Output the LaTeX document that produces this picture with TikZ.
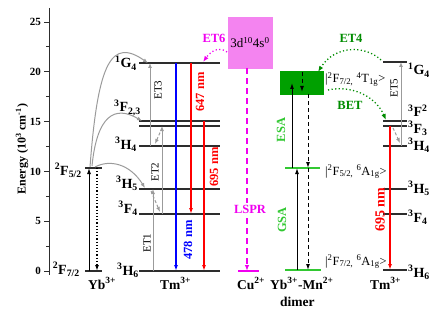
\documentclass[tikz,border=0pt]{standalone}
\usepackage{fontspec}
\setmainfont{Liberation Serif}
\usetikzlibrary{arrows.meta,calc}
\definecolor{lvlc}{RGB}{45,45,45}
\definecolor{grayarr}{RGB}{155,155,155}
\definecolor{pinkbox}{RGB}{244,132,240}
\definecolor{mag}{RGB}{240,0,240}
\definecolor{dgreen}{RGB}{0,140,0}
\definecolor{lgreen}{RGB}{50,200,50}
\definecolor{boxgreen}{RGB}{0,160,0}
\definecolor{myred}{RGB}{255,0,0}
\definecolor{myblue}{RGB}{0,0,255}
\begin{document}
\begin{tikzpicture}[x=1pt,y=-1pt,
  lvl/.style={draw=lvlc,line width=1.4pt},
  glvl/.style={draw=lgreen,line width=2pt},
  tip/.style={-{Latex[length=6pt,width=4pt]}},
  blk/.style={draw=black,line width=1pt,-{Latex[length=6pt,width=4pt]}},
  blkdash/.style={draw=black,line width=1pt,dash pattern=on 4pt off 3pt,-{Latex[length=6pt,width=4pt]}},
  grayup/.style={draw=grayarr,line width=1pt,-{Latex[length=5pt,width=4pt]}},
  graydash/.style={draw=grayarr,line width=1pt,dash pattern=on 3pt off 2pt,-{Latex[length=5pt,width=4pt]}},
  emis/.style={line width=1.2pt,-{Latex[length=6pt,width=4pt]}},
  lbl/.style={font=\bfseries\fontsize{14}{14}\selectfont,inner sep=0pt},
  splbl/.style={font=\bfseries\fontsize{13.5}{13.5}\selectfont,inner sep=0pt,anchor=base west},
  etlbl/.style={font=\fontsize{11}{11}\selectfont,rotate=90,inner sep=0pt},
  nmlbl/.style={font=\bfseries\fontsize{12.5}{12.5}\selectfont,rotate=90,inner sep=0pt},
  ticklbl/.style={font=\bfseries\fontsize{11}{11}\selectfont,inner sep=0pt,anchor=east},
  ketlbl/.style={font=\fontsize{12.5}{12.5}\selectfont,inner sep=0pt,anchor=base west},
  collbl/.style={font=\bfseries\fontsize{12.5}{12.5}\selectfont,inner sep=0pt},
  dotc/.style={line width=1.3pt,dash pattern=on 1.2pt off 2.4pt,-{Latex[length=6pt,width=4.5pt]}},
]
\useasboundingbox (0,0) rectangle (444,310);
% ---------- axis
\coordinate (axT) at (49,8);
\coordinate (axB) at (49,275);
\draw[line width=0.8pt,lvlc] (axT) -- (axB);
\foreach \e in {0,5,...,25}{
  \draw[line width=0.8pt,lvlc] (44,{271-9.96*\e}) -- (49,{271-9.96*\e});
  \node[ticklbl] (tick\e) at (41,{271-9.96*\e}) {\e};
}
\foreach \e in {2.5,7.5,12.5,17.5,22.5}{
  \draw[line width=0.8pt,lvlc] (46,{271-9.96*\e}) -- (49,{271-9.96*\e});
}
\node[rotate=90,font=\bfseries\fontsize{12}{12}\selectfont,inner sep=0pt] (ylab) at (22,149) {Energy (10\textsuperscript{3} cm\textsuperscript{-1})};

% ---------- Yb3+
\coordinate (ybUL) at (85,168); \coordinate (ybUR) at (102,168);
\coordinate (ybLL) at (85,271); \coordinate (ybLR) at (102,271);
\draw[lvl] (ybUL) -- (ybUR);
\draw[lvl] (ybLL) -- (ybLR);
\draw[blk] (89,0 |- ybLL) -- (89,0 |- ybUL);
\draw[line width=1.2pt,dash pattern=on 1.2pt off 2pt,-{Latex[length=6pt,width=4pt]}] (97,0 |- ybUL) -- (97,0 |- ybLL);
\node[lbl,anchor=base east] (lF52) at (82,175) {\textsuperscript{2}F\textsubscript{5/2}};
\node[lbl,anchor=base east] (lF72) at (80,274) {\textsuperscript{2}F\textsubscript{7/2}};
\node[splbl] (lyb) at (88,289) {Yb\textsuperscript{3+}};

% ---------- Tm3+ (left)
\foreach \n/\y in {G4/63,Fa/121,Fb/126,H4/146,H5/189,F4/214,H6/271}{
  \coordinate (tl\n) at (139,\y); \coordinate (tr\n) at (220,\y);
  \draw[lvl] (tl\n) -- (tr\n);
}
\node[lbl,anchor=base east] (lG4) at (137,68) {\textsuperscript{1}G\textsubscript{4}};
\node[lbl,anchor=base east] (lF23) at (141,112) {\textsuperscript{3}F\textsubscript{2,3}};
\node[lbl,anchor=base east] (lH4) at (137,149) {\textsuperscript{3}H\textsubscript{4}};
\node[lbl,anchor=base east] (lH5) at (138,188) {\textsuperscript{3}H\textsubscript{5}};
\node[lbl,anchor=base east] (lF4) at (138,213) {\textsuperscript{3}F\textsubscript{4}};
\node[lbl,anchor=base east] (lH6) at (139,275) {\textsuperscript{3}H\textsubscript{6}};
\node[splbl] (ltm) at (160,289) {Tm\textsuperscript{3+}};

% energy transfer from Yb
\coordinate (c1s) at (90,167); \coordinate (c1e) at (148,63);
\coordinate (c2s) at (92,166); \coordinate (c2e) at (142,121);
\coordinate (c3s) at (95,167); \coordinate (c3e) at (145,188);
\draw[grayup] (c1s) .. controls (98,60) and (112,38) .. (c1e);
\draw[grayup] (c2s) .. controls (97,115) and (115,105) .. (c2e);
\draw[grayup] (c3s) .. controls (110,159) and (130,164) .. (c3e);

\draw[grayup] (153,0 |- tlH6) -- (153,0 |- tlH5);
\draw[grayup] (162,0 |- tlF4) -- (162,0 |- tlFb);
\draw[grayup] (150,0 |- tlH4) -- (150,0 |- tlG4);
\coordinate (nr1s) at (162,128); \coordinate (nr1e) at (155,144);
\coordinate (nr2s) at (151,191); \coordinate (nr2e) at (160,212);
\draw[graydash] (nr1s) -- (nr1e);
\draw[graydash] (nr2s) -- (nr2e);
\node[etlbl] (et1) at (147,243) {ET1};
\node[etlbl] (et2) at (155,172) {ET2};
\node[etlbl] (et3) at (158,90) {ET3};

% emissions
\draw[emis,myblue] (176,0 |- tlG4) -- (176,0 |- tlH6);
\draw[emis,myred] (191,0 |- tlG4) -- (191,0 |- tlF4);
\draw[emis,myred] (204,0 |- tlFa) -- (204,0 |- tlH6);
\node[nmlbl,text=myblue] (n478) at (188,240) {478 nm};
\node[nmlbl,text=myred] (n647) at (200,92) {647 nm};
\node[nmlbl,text=myred] (n695a) at (214,167) {695 nm};

% ---------- Cu2+
\node[draw=pinkbox,fill=pinkbox,minimum width=44pt,minimum height=51pt,inner sep=0pt,
      font=\fontsize{13}{13}\selectfont] (cubox) at (250,42.5) {3d\textsuperscript{10}4s\textsuperscript{0}};
\coordinate (cuL) at (238,271); \coordinate (cuR) at (259,271);
\draw[mag,line width=1.5pt] (cuL) -- (cuR);
\draw[mag,line width=1.3pt,dash pattern=on 6pt off 4pt,-{Latex[length=6pt,width=4.5pt]}] (247,0 |- cubox.south) -- (247,0 |- cuL);
\node[collbl,text=mag,fill=white,inner sep=1.5pt] (lspr) at (250,209) {LSPR};
\node[splbl] (lcu) at (237,289) {Cu\textsuperscript{2+}};
\node[collbl,text=mag] (et6) at (214,38) {ET6};
\coordinate (et6s) at (227,52); \coordinate (et6e) at (203,62);
\draw[mag,dotc] (et6s) .. controls (219,46) and (211,51) .. (et6e);

% ---------- Yb3+-Mn2+ dimer
\node[fill=boxgreen,draw=boxgreen,minimum width=43pt,minimum height=23pt,inner sep=0pt] (gbox) at (301.5,82.5) {};
\coordinate (dUL) at (285,168); \coordinate (dUR) at (320,168);
\coordinate (dLL) at (285,270); \coordinate (dLR) at (321,270);
\draw[glvl] (dUL) -- (dUR);
\draw[glvl] (dLL) -- (dLR);
\coordinate (esaE) at (292,83);
\draw[blk] (292,0 |- dUL) -- (esaE);
\coordinate (ibS) at (302,72); \coordinate (ibE) at (302,92);
\draw[blkdash] (ibS) -- (ibE);
\draw[blkdash] (308,0 |- gbox.south) -- (308,0 |- dUL);
\draw[blkdash] (308,0 |- dUL) -- (308,0 |- dLL);
\draw[blk] (297,0 |- dLL) -- (297,0 |- dUL);
\node[collbl,text=lgreen,rotate=90] (esa) at (281,130) {ESA};
\node[collbl,text=lgreen,rotate=90] (gsa) at (282,220) {GSA};
\node[ketlbl] (k1) at (325,83) {|\textsuperscript{2}F\textsubscript{7/2,} \textsuperscript{4}T\textsubscript{1g}>};
\node[ketlbl] (k2) at (325,175) {|\textsuperscript{2}F\textsubscript{5/2,} \textsuperscript{6}A\textsubscript{1g}>};
\node[ketlbl] (k3) at (325,265) {|\textsuperscript{2}F\textsubscript{7/2,} \textsuperscript{6}A\textsubscript{1g}>};
\node[splbl] (ldim) at (270,289) {Yb\textsuperscript{3+}-Mn\textsuperscript{2+}};
\node[splbl] (ldim2) at (280,306) {dimer};
\node[collbl,text=dgreen] (et4) at (351,38) {ET4};
\node[collbl,text=dgreen] (bet) at (350,105) {BET};

% ---------- Tm3+ (right)
\foreach \n/\y in {G4/62,Fa/121,Fb/126,H4/146,H5/189,F4/214,H6/270}{
  \coordinate (ul\n) at (383,\y); \coordinate (ur\n) at (407,\y);
  \draw[lvl] (ul\n) -- (ur\n);
}
\node[lbl,anchor=base west] (rG4) at (408,75) {\textsuperscript{1}G\textsubscript{4}};
\node[lbl,anchor=base west] (rF2) at (408,117) {\textsuperscript{3}F\textsuperscript{2}};
\node[lbl,anchor=base west] (rF3) at (408,133) {\textsuperscript{3}F\textsubscript{3}};
\node[lbl,anchor=base west] (rH4) at (408,150) {\textsuperscript{3}H\textsubscript{4}};
\node[lbl,anchor=base west] (rH5) at (408,193) {\textsuperscript{3}H\textsubscript{5}};
\node[lbl,anchor=base west] (rF4) at (408,222) {\textsuperscript{3}F\textsubscript{4}};
\node[lbl,anchor=base west] (rH6) at (408,277) {\textsuperscript{3}H\textsubscript{6}};
\node[splbl] (rtm) at (370,289) {Tm\textsuperscript{3+}};
\draw[grayup] (401,0 |- ulH4) -- (401,0 |- ulG4);
\coordinate (nr3s) at (393,128); \coordinate (nr3e) at (400,143);
\draw[graydash] (nr3s) -- (nr3e);
\node[etlbl] (et5) at (394,88) {ET5};
\draw[emis,myred] (390,0 |- ulFb) -- (390,0 |- ulH6);
\node[nmlbl,text=myred,font=\bfseries\fontsize{14}{14}\selectfont] (n695b) at (380,210) {695 nm};

% dotted transfers of the dimer
\coordinate (et4s) at (381,60); \coordinate (et4e) at (318,72);
\draw[dgreen,dotc] (et4s) .. controls (365,45) and (335,45) .. (et4e);
\coordinate (bets) at (328,90); \coordinate (bete) at (386,120);
\draw[dgreen,dotc] (bets) .. controls (350,85) and (375,95) .. (bete);
\end{tikzpicture}
\end{document}
